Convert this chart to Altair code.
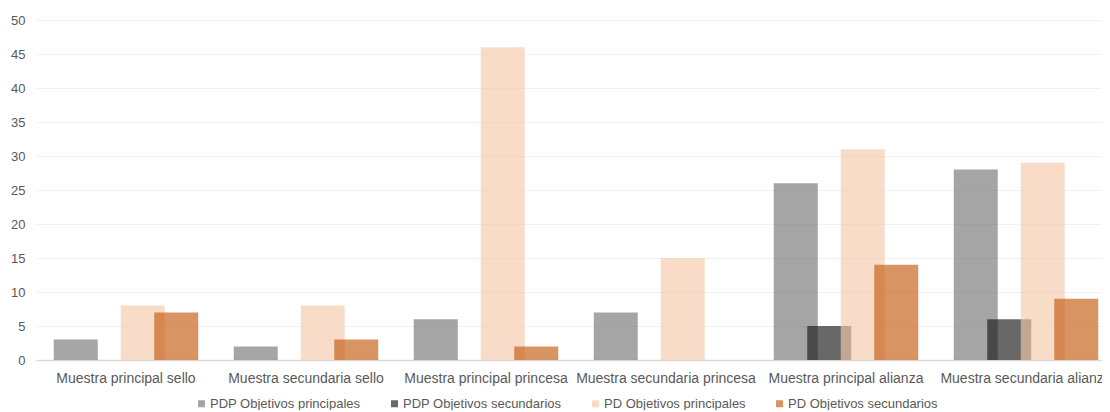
import altair as alt
import pandas as pd

categories = [
    "Muestra principal sello",
    "Muestra secundaria sello",
    "Muestra principal princesa",
    "Muestra secundaria princesa",
    "Muestra principal alianza",
    "Muestra secundaria alianza",
]
series = [
    "PDP Objetivos principales",
    "PDP Objetivos secundarios",
    "PD Objetivos principales",
    "PD Objetivos secundarios",
]
pdp_principales = [3, 2, 6, 7, 26, 28]
pdp_secundarios = [0, 0, 0, 0, 5, 6]
pd_principales = [8, 8, 46, 15, 31, 29]
pd_secundarios = [7, 3, 2, 0, 14, 9]
colors = ["#757575", "#171717", "#F6C9AB", "#C55A11"]

values = [pdp_principales, pdp_secundarios, pd_principales, pd_secundarios]
rows = []
for s, vals in zip(series, values):
    for c, v in zip(categories, vals):
        rows.append({"Categoria": c, "Serie": s, "Valor": v})
df = pd.DataFrame(rows)

font = "Liberation Sans"

chart = (
    alt.Chart(df)
    .mark_bar(width=44, opacity=0.65)
    .encode(
        x=alt.X(
            "Categoria:N",
            sort=categories,
            title=None,
            scale=alt.Scale(paddingInner=0.2556, paddingOuter=0.1278, range=[0, 1080]),
            axis=alt.Axis(
                labelAngle=0,
                ticks=False,
                labelPadding=11,
                labelFontSize=14,
                labelColor="#595959",
                labelFont=font,
                domainColor="#d9d9d9",
                domainWidth=1.5,
                grid=False,
            ),
        ),
        xOffset=alt.XOffset(
            "Serie:N",
            sort=series,
            scale=alt.Scale(paddingInner=0, paddingOuter=0),
        ),
        y=alt.Y(
            "Valor:Q",
            title=None,
            scale=alt.Scale(domain=[0, 50]),
            axis=alt.Axis(
                values=list(range(0, 51, 5)),
                ticks=False,
                domain=False,
                labelPadding=11,
                labelFontSize=13,
                labelColor="#595959",
                labelFont=font,
                gridColor="#f0f0f0",
                gridWidth=1,
            ),
        ),
        color=alt.Color(
            "Serie:N",
            sort=series,
            scale=alt.Scale(domain=series, range=colors),
            legend=alt.Legend(
                title=None,
                orient="none",
                legendX=159,
                legendY=377,
                direction="horizontal",
                symbolType="square",
                symbolSize=49,
                symbolOpacity=0.65,
                symbolStrokeWidth=0,
                labelFontSize=13,
                labelColor="#595959",
                labelFont=font,
                labelOffset=2,
                columnPadding=27,
            ),
        ),
    )
    .properties(
        width=1066,
        height=340,
        autosize=alt.AutoSizeParams(type="none"),
        padding={"left": 28, "top": 12, "right": 0, "bottom": 50},
    )
    .configure_view(stroke=None)
)

chart.save("out.html", embed_options={"renderer": "svg", "actions": False})
